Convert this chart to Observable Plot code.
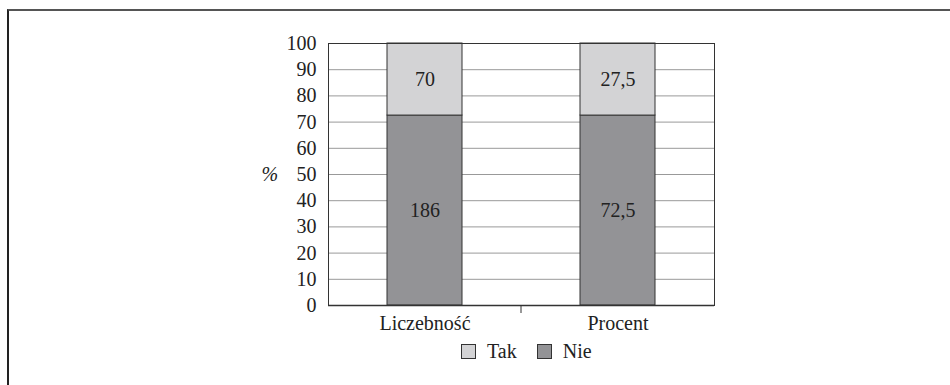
<!DOCTYPE html>
<html>
<head>
<meta charset="utf-8">
<script src="https://cdn.jsdelivr.net/npm/d3@7"></script>
<script src="https://cdn.jsdelivr.net/npm/@observablehq/plot@0.6"></script>
<style>
  html, body { margin: 0; padding: 0; background: #fff; }
  #wrap { position: relative; width: 950px; height: 385px; overflow: hidden; font-family: "Liberation Serif", "Times New Roman", "DejaVu Serif", serif; }
  #frame { position: absolute; left: 7px; top: 9px; right: -10px; bottom: -10px; border-top: 2px solid #555; border-left: 2px solid #222; }
  #chart { position: absolute; left: 0; top: 0; }
  #legend { position: absolute; left: 461px; top: 340px; display: flex; align-items: center; font-size: 20px; color: #222; }
  #legend .sw { width: 13px; height: 13px; border: 1px solid #333; display: inline-block; margin-right: 11px; }
  #legend .item { display: flex; align-items: center; margin-right: 20px; }
</style>
</head>
<body>
<div id="wrap">
  <div id="frame"></div>
  <div id="chart"></div>
  <div id="legend"></div>
</div>
<script>
const categories = ["Liczebność", "Procent"];
const series = ["Nie", "Tak"];
const nieValues = [72.5, 72.5];
const takValues = [27.5, 27.5];
const nieLabels = ["186", "72,5"];
const takLabels = ["70", "27,5"];
const yTicks = [0, 10, 20, 30, 40, 50, 60, 70, 80, 90, 100];
const colors = {Tak: "#d3d3d5", Nie: "#939396"};
const legendOrder = ["Tak", "Nie"];

const data = [];
categories.forEach((c, i) => data.push({cat: c, series: "Nie", value: nieValues[i], label: nieLabels[i]}));
categories.forEach((c, i) => data.push({cat: c, series: "Tak", value: takValues[i], label: takLabels[i]}));

const font = "'Liberation Serif', 'Times New Roman', 'DejaVu Serif', serif";

const divider = (index, scales, values, dimensions) => {
  const x = scales.x;
  const bw = x.bandwidth();
  const xm = (x(categories[0]) + bw / 2 + x(categories[1]) + bw / 2) / 2;
  const y0 = scales.y(0);
  const g = d3.create("svg:g");
  g.append("line").attr("x1", xm).attr("x2", xm).attr("y1", y0).attr("y2", y0 + 8)
    .attr("stroke", "#333").attr("stroke-width", 1);
  return g.node();
};

const chart = Plot.plot({
  width: 950,
  height: 385,
  marginLeft: 328,
  marginRight: 236,
  marginTop: 43,
  marginBottom: 80,
  style: {fontFamily: font, fontSize: "20px", color: "#222", background: "transparent"},
  x: {domain: categories, paddingInner: 0.611, paddingOuter: 0.3055, label: null, tickSize: 0, tickPadding: 10},
  y: {domain: [0, 100], ticks: yTicks, label: null, tickSize: 0, tickPadding: 12},
  color: {domain: Object.keys(colors), range: Object.values(colors)},
  marks: [
    Plot.gridY(yTicks, {stroke: "#999", strokeOpacity: 1, strokeWidth: 1}),
    Plot.barY(data, {x: "cat", y: "value", fill: "series", stroke: "#333", strokeWidth: 1, order: null}),
    Plot.text(data, Plot.stackY({x: "cat", y: "value", z: "series", text: "label", order: null, fill: "#222", fontSize: 20})),
    Plot.frame({stroke: "#333", strokeWidth: 1}),
    Plot.ruleY([0], {stroke: "#333", strokeWidth: 1.5}),
    Plot.text(["%"], {frameAnchor: "left", dx: -67, text: d => d, fontSize: 20, fontStyle: "italic", fill: "#222"}),
    divider
  ]
});
document.getElementById("chart").appendChild(chart);

const legend = document.getElementById("legend");
legendOrder.forEach(s => {
  const item = document.createElement("span");
  item.className = "item";
  const sw = document.createElement("span");
  sw.className = "sw";
  sw.style.background = colors[s];
  item.appendChild(sw);
  item.appendChild(document.createTextNode(s));
  legend.appendChild(item);
});
</script>
</body>
</html>
